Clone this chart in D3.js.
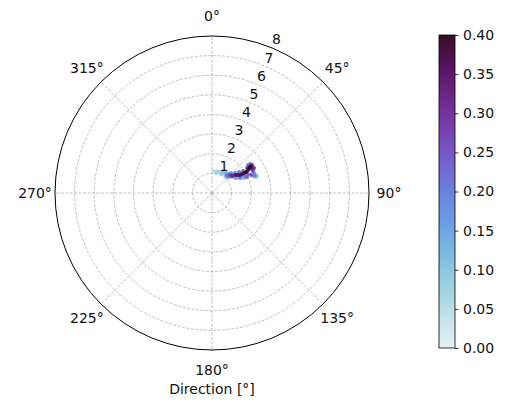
<!DOCTYPE html>
<html>
<head>
<meta charset="utf-8">
<script src="https://cdn.jsdelivr.net/npm/d3@7"></script>
<style>
  html, body { margin: 0; padding: 0; background: #fff; }
  svg { display: block; }
  text { font-family: "DejaVu Sans", sans-serif; fill: #111; }
</style>
</head>
<body>
<svg id="chart" width="507" height="402"></svg>
<script>
// ---- data ----
const directions = [2.6, 8.1, 12.8, 18.4, 23.2, 27.6, 33.0, 36.9, 41.8, 39.8, 45.0, 49.6, 50.7, 53.1, 55.3, 57.3, 57.7, 58.0, 58.3, 57.4, 56.0, 55.3, 55.0, 55.6, 59.0, 43.5, 49.0, 52.1, 54.6, 54.5, 52.6, 48.4, 54.0, 58.4, 61.9, 62.7, 62.2, 61.8, 64.5, 67.3, 70.0, 68.0, 69.3, 57.6, 39.5, 45.0, 58.0, 61.8, 64.9, 65.4, 65.2, 52.1, 59.2, 11.3, 27.8];
const radii = [1.12, 1.08, 1.15, 1.13, 1.17, 1.21, 1.22, 1.28, 1.30, 1.20, 1.30, 1.34, 1.45, 1.53, 1.61, 1.70, 1.81, 1.93, 2.04, 2.18, 2.28, 2.42, 2.49, 2.35, 2.38, 1.41, 1.56, 1.75, 1.94, 2.19, 2.44, 1.23, 1.39, 1.56, 1.73, 1.89, 2.08, 2.37, 2.37, 2.38, 2.39, 2.31, 2.45, 2.48, 1.12, 1.15, 1.44, 1.62, 1.80, 1.96, 2.19, 2.33, 2.49, 1.04, 1.10];
const values = [0.04, 0.06, 0.05, 0.08, 0.07, 0.10, 0.12, 0.09, 0.14, 0.22, 0.28, 0.32, 0.30, 0.36, 0.33, 0.38, 0.35, 0.38, 0.40, 0.37, 0.40, 0.38, 0.30, 0.40, 0.33, 0.16, 0.18, 0.20, 0.22, 0.25, 0.20, 0.12, 0.15, 0.10, 0.14, 0.20, 0.22, 0.25, 0.18, 0.15, 0.10, 0.20, 0.08, 0.15, 0.14, 0.18, 0.16, 0.20, 0.12, 0.24, 0.26, 0.22, 0.28, 0.07, 0.09];
const radialTicks = [1, 2, 3, 4, 5, 6, 7, 8];
const angleTicks = [0, 45, 90, 135, 180, 225, 270, 315];
const colorTicks = [0.00, 0.05, 0.10, 0.15, 0.20, 0.25, 0.30, 0.35, 0.40];
const xLabel = "Direction [°]";
// colormap stops (cmocean "dense"-like)
const cmapStops = ["#e6f1f1", "#c2e1e7", "#9dd0e2", "#7abbe1", "#679fe3", "#6b80df", "#765fce", "#7741af", "#6d278a", "#57145f", "#360e24"];

// ---- layout ----
const FS = "14px";
const svg = d3.select("#chart");
const cx = 212, cy = 193, R = 157;
const rScale = d3.scaleLinear().domain([0, 8]).range([0, R]);
const aScale = d3.scaleLinear().domain([0, 360]).range([0, 2 * Math.PI]);
const cmap = d3.scaleLinear()
  .domain(cmapStops.map((d, i) => 0.4 * i / (cmapStops.length - 1)))
  .range(cmapStops)
  .interpolate(d3.interpolateRgb)
  .clamp(true);

const px = (deg, r) => cx + rScale(r) * Math.sin(aScale(deg));
const py = (deg, r) => cy - rScale(r) * Math.cos(aScale(deg));

const g = svg.append("g");

// grid circles
g.selectAll("circle.grid").data(radialTicks.filter(d => d < 8)).enter()
  .append("circle").attr("class", "grid")
  .attr("cx", cx).attr("cy", cy).attr("r", d => rScale(d))
  .attr("fill", "none").attr("stroke", "#b0b0b0").attr("stroke-width", 0.8)
  .attr("stroke-dasharray", "3,1.5");

// angular grid lines
g.selectAll("line.spoke").data(angleTicks).enter()
  .append("line").attr("class", "spoke")
  .attr("x1", cx).attr("y1", cy)
  .attr("x2", d => px(d, 8)).attr("y2", d => py(d, 8))
  .attr("stroke", "#b0b0b0").attr("stroke-width", 0.8)
  .attr("stroke-dasharray", "3,1.5");

// data points (sorted so darker values on top)
const pts = directions.map((d, i) => ({ dir: d, r: radii[i], v: values[i] }))
  .sort((a, b) => a.v - b.v);
g.selectAll("circle.pt").data(pts).enter()
  .append("circle").attr("class", "pt")
  .attr("cx", d => px(d.dir, d.r)).attr("cy", d => py(d.dir, d.r))
  .attr("r", 2)
  .attr("fill", d => cmap(d.v));

// outer spine
g.append("circle").attr("cx", cx).attr("cy", cy).attr("r", R)
  .attr("fill", "none").attr("stroke", "#000").attr("stroke-width", 1);

// radial labels at 22.5°
g.selectAll("text.rl").data(radialTicks).enter()
  .append("text").attr("class", "rl")
  .attr("x", d => px(22.5, d) + 4.5).attr("y", d => py(22.5, d) - 8.5)
  .attr("text-anchor", "middle").attr("dominant-baseline", "central")
  .attr("font-size", FS)
  .text(d => d);

// angle labels
g.selectAll("text.al").data(angleTicks).enter()
  .append("text").attr("class", "al")
  .attr("x", d => cx + (R + 20) * Math.sin(aScale(d)))
  .attr("y", d => cy - (R + 20) * Math.cos(aScale(d)))
  .attr("text-anchor", "middle").attr("dominant-baseline", "central")
  .attr("font-size", FS)
  .text(d => d + "°");

// x label
svg.append("text").attr("x", cx).attr("y", 394)
  .attr("text-anchor", "middle").attr("font-size", FS)
  .text(xLabel);

// ---- colorbar ----
const cbX = 439, cbW = 16, cbTop = 35, cbBot = 348;
const cScale = d3.scaleLinear().domain([0, 0.4]).range([cbBot, cbTop]);
const defs = svg.append("defs");
const grad = defs.append("linearGradient").attr("id", "cbgrad")
  .attr("x1", 0).attr("y1", 1).attr("x2", 0).attr("y2", 0);
grad.selectAll("stop").data(cmapStops).enter().append("stop")
  .attr("offset", (d, i) => i / (cmapStops.length - 1))
  .attr("stop-color", d => d);
svg.append("rect").attr("x", cbX).attr("y", cbTop).attr("width", cbW).attr("height", cbBot - cbTop)
  .attr("fill", "url(#cbgrad)").attr("stroke", "#000").attr("stroke-width", 0.8);
const cAxis = d3.axisRight(cScale).tickValues(colorTicks).tickFormat(d3.format(".2f")).tickSize(3.5).tickPadding(4.5);
const ag = svg.append("g").attr("transform", `translate(${cbX + cbW},0)`).call(cAxis);
ag.select(".domain").remove();
ag.selectAll("text").attr("font-size", FS).attr("font-family", "DejaVu Sans, sans-serif").attr("fill", "#111");
ag.selectAll("line").attr("stroke", "#000").attr("stroke-width", 0.8);
</script>
</body>
</html>
